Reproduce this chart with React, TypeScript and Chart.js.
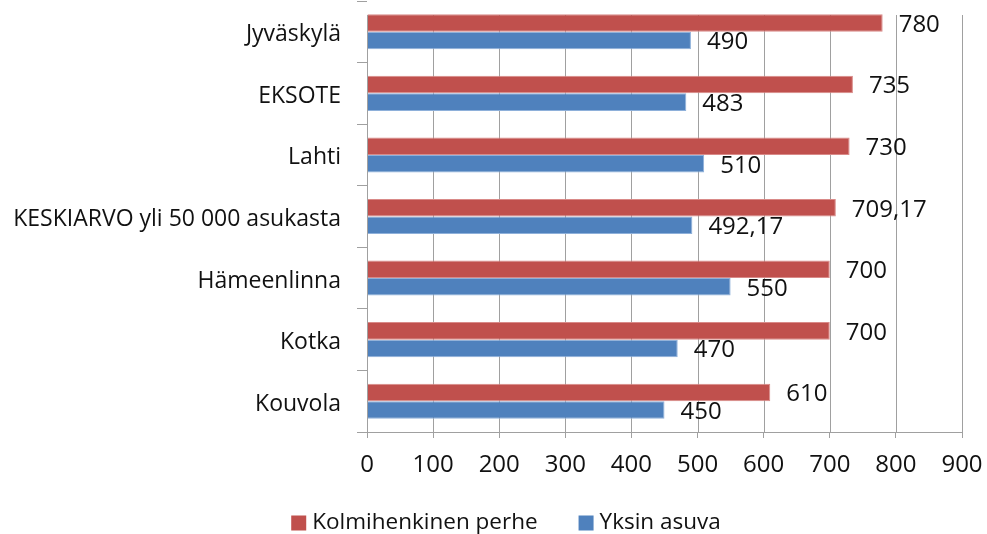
import React, { useEffect, useRef } from "react";
import { Chart, registerables } from "chart.js";

Chart.register(...registerables);

const categories = [
  "Jyväskylä",
  "EKSOTE",
  "Lahti",
  "KESKIARVO yli 50 000 asukasta",
  "Hämeenlinna",
  "Kotka",
  "Kouvola",
];
const perhe = [780, 735, 730, 709.17, 700, 700, 610];
const yksin = [490, 483, 510, 492.17, 550, 470, 450];
const seriesNames = ["Kolmihenkinen perhe", "Yksin asuva"];
const seriesColors = ["#C0504D", "#4F81BD"];
const seriesBorders = ["#D98A88", "#8EB0DA"];
const xTicks = [0, 100, 200, 300, 400, 500, 600, 700, 800, 900];

const FONT = "'Open Sans', Lato, sans-serif";
const GRID = "#A0A0A0";
const TEXT = "#111";

const valueLabels = {
  id: "valueLabels",
  afterDatasetsDraw(chart: any) {
    const ctx = chart.ctx;
    ctx.save();
    ctx.font = `24px ${FONT}`;
    ctx.fillStyle = TEXT;
    ctx.textAlign = "left";
    ctx.textBaseline = "middle";
    chart.data.datasets.forEach((ds: any, i: number) => {
      const meta = chart.getDatasetMeta(i);
      meta.data.forEach((bar: any, j: number) => {
        const v = ds.data[j];
        ctx.fillText(String(v).replace(".", ","), bar.x + 16, bar.y + 2);
      });
    });
    ctx.restore();
  },
};

const gridLines = {
  id: "gridLines",
  beforeDatasetsDraw(chart: any) {
    const ctx = chart.ctx;
    const area = chart.chartArea;
    const xs = chart.scales.x;
    const top = area.top + 14;
    ctx.save();
    ctx.strokeStyle = GRID;
    ctx.lineWidth = 1;
    xs.ticks.forEach((t: any) => {
      const x = Math.round(xs.getPixelForValue(t.value)) + 0.5;
      ctx.beginPath();
      ctx.moveTo(x, top);
      ctx.lineTo(x, area.bottom);
      ctx.stroke();
    });
    ctx.restore();
  },
};

const yAxisLine = {
  id: "yAxisLine",
  afterDatasetsDraw(chart: any) {
    const ctx = chart.ctx;
    const a = chart.chartArea;
    const x = Math.round(a.left) + 0.5;
    ctx.save();
    ctx.strokeStyle = GRID;
    ctx.lineWidth = 1;
    ctx.beginPath();
    ctx.moveTo(x, a.top + 14);
    ctx.lineTo(x, a.bottom);
    ctx.stroke();
    ctx.restore();
  },
};

const customLegend = {
  id: "customLegend",
  afterDraw(chart: any) {
    const ctx = chart.ctx;
    const box = 15;
    const gapText = 6;
    const gapItems = 41;
    const centerX = 506;
    const cy = 523;
    ctx.save();
    ctx.font = `22.5px ${FONT}`;
    ctx.textBaseline = "middle";
    ctx.textAlign = "left";
    const items = chart.data.datasets.map((ds: any) => ({
      label: ds.label,
      color: ds.backgroundColor,
      w: ctx.measureText(ds.label).width,
    }));
    const total =
      items.reduce((s: number, it: any) => s + box + gapText + it.w, 0) +
      gapItems * (items.length - 1);
    let x = centerX - total / 2;
    items.forEach((it: any) => {
      ctx.fillStyle = it.color;
      ctx.fillRect(x, cy - box / 2, box, box);
      x += box + gapText;
      ctx.fillStyle = TEXT;
      ctx.fillText(it.label, x, cy);
      x += it.w + gapItems;
    });
    ctx.restore();
  },
};

export default function App() {
  const ref = useRef<HTMLCanvasElement>(null);
  useEffect(() => {
    if (!ref.current) return;
    const chart = new Chart(ref.current, {
      type: "bar",
      data: {
        labels: categories,
        datasets: [
          {
            label: seriesNames[0],
            data: perhe,
            backgroundColor: seriesColors[0],
            borderColor: seriesBorders[0],
            borderWidth: 1,
            barPercentage: 1,
            categoryPercentage: 0.57,
          },
          {
            label: seriesNames[1],
            data: yksin,
            backgroundColor: seriesColors[1],
            borderColor: seriesBorders[1],
            borderWidth: 1,
            barPercentage: 1,
            categoryPercentage: 0.57,
          },
        ],
      },
      options: {
        indexAxis: "y",
        animation: false,
        responsive: false,
        maintainAspectRatio: false,
        layout: { padding: { top: 1, right: 25, left: 0, bottom: 42 } },
        scales: {
          x: {
            type: "linear",
            min: 0,
            max: 900,
            afterBuildTicks: (s: any) => {
              s.ticks = xTicks.map((v) => ({ value: v }));
            },
            afterFit: (s: any) => {
              s.height = 60;
              s.paddingLeft = 0;
              s.paddingRight = 0;
            },
            grid: {
              drawOnChartArea: false,
              drawTicks: true,
              tickLength: 6,
              color: GRID,
            },
            border: { display: true, color: GRID },
            ticks: {
              font: { family: FONT, size: 24 },
              color: TEXT,
              padding: 13,
              maxRotation: 0,
            },
          },
          y: {
            type: "category",
            afterFit: (s: any) => {
              s.width = 367;
              s.paddingTop = 0;
              s.paddingBottom = 0;
            },
            grid: {
              drawOnChartArea: false,
              drawTicks: true,
              tickLength: 10,
              color: GRID,
              offset: true,
            },
            border: { display: false },
            ticks: {
              font: { family: FONT, size: 23 },
              color: TEXT,
              padding: 16,
              labelOffset: 3,
            },
          },
        },
        plugins: {
          legend: { display: false },
          tooltip: { enabled: false },
        },
      },
      plugins: [gridLines, valueLabels, yAxisLine, customLegend],
    } as any);
    return () => chart.destroy();
  }, []);
  return (
    <div
      style={{
        position: "fixed",
        left: 0,
        top: 0,
        width: 987,
        height: 534,
        overflow: "hidden",
        background: "#fff",
      }}
    >
      <canvas ref={ref} width={987} height={534} style={{ width: 987, height: 534, display: "block" }} />
    </div>
  );
}
